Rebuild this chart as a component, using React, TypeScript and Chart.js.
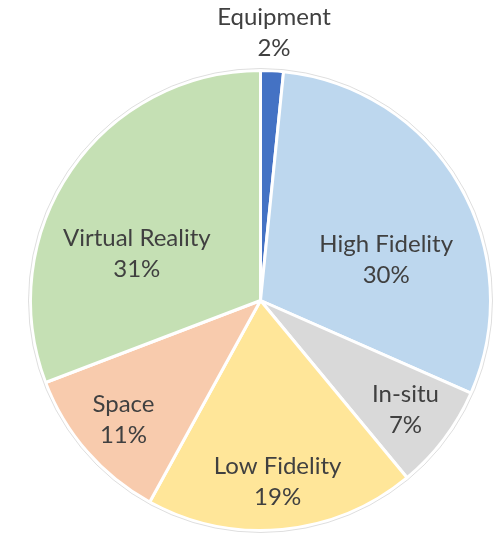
import React, { useEffect, useRef } from "react";
import { Chart, registerables } from "chart.js";

Chart.register(...registerables);

const categories = ["Equipment", "High Fidelity", "In-situ", "Low Fidelity", "Space", "Virtual Reality"];
const shares = [1.6, 30.0, 7.4, 19.0, 11.2, 30.8];
const sliceColors = ["#4472C4", "#BDD7EE", "#D9D9D9", "#FFE699", "#F8CBAD", "#C5E0B4"];

const FONT = "24px Lato";
const TEXT_COLOR = "#404040";

const labelPlugin = {
  id: "sliceLabels",
  afterDatasetsDraw(chart: any) {
    const meta = chart.getDatasetMeta(0);
    const ctx = chart.ctx;
    const data: number[] = chart.data.datasets[0].data;
    const total = data.reduce((a, b) => a + b, 0);
    ctx.save();
    // faint outer ring
    if (meta.data.length) {
      const a0 = meta.data[0].getProps(["x", "y", "outerRadius"], true);
      ctx.beginPath();
      ctx.arc(a0.x, a0.y, a0.outerRadius + 2, 0, Math.PI * 2);
      ctx.strokeStyle = "rgba(0,0,0,0.13)";
      ctx.lineWidth = 1;
      ctx.stroke();
    }
    ctx.font = FONT;
    ctx.fillStyle = TEXT_COLOR;
    ctx.textAlign = "center";
    ctx.textBaseline = "middle";
    meta.data.forEach((arc: any, i: number) => {
      const { x, y, startAngle, endAngle, outerRadius } = arc.getProps(
        ["x", "y", "startAngle", "endAngle", "outerRadius"],
        true
      );
      let mid = (startAngle + endAngle) / 2;
      const span = endAngle - startAngle;
      let r: number;
      if (span < 0.15) {
        r = outerRadius + 38;
      } else if (span > Math.PI / 2) {
        r = outerRadius * 0.575;
        const target = Math.round(mid / Math.PI) * Math.PI;
        mid = mid + (target - mid) * 0.4;
      } else {
        r = outerRadius * 0.79;
      }
      const px = x + Math.cos(mid) * r;
      const py = y + Math.sin(mid) * r;
      const pct = Math.round((data[i] / total) * 100) + "%";
      ctx.fillText(chart.data.labels[i], px, py - 15.5);
      ctx.fillText(pct, px, py + 15.5);
    });
    ctx.restore();
  },
};

export default function App() {
  const ref = useRef<HTMLCanvasElement>(null);
  useEffect(() => {
    if (!ref.current) return;
    const chart = new Chart(ref.current, {
      type: "pie",
      data: {
        labels: categories,
        datasets: [
          {
            data: shares,
            backgroundColor: sliceColors,
            borderColor: "#ffffff",
            borderWidth: 3,
          },
        ],
      },
      options: {
        animation: false,
        responsive: true,
        maintainAspectRatio: false,
        radius: 230,
        layout: { padding: { left: 29, right: 7, top: 69, bottom: 1 } },
        plugins: {
          legend: { display: false },
          tooltip: { enabled: false },
        },
      },
      plugins: [labelPlugin],
    });
    return () => chart.destroy();
  }, []);
  return (
    <div style={{ position: "absolute", left: 0, top: 0, width: 499, height: 533, background: "#fff" }}>
      <canvas ref={ref} />
    </div>
  );
}
